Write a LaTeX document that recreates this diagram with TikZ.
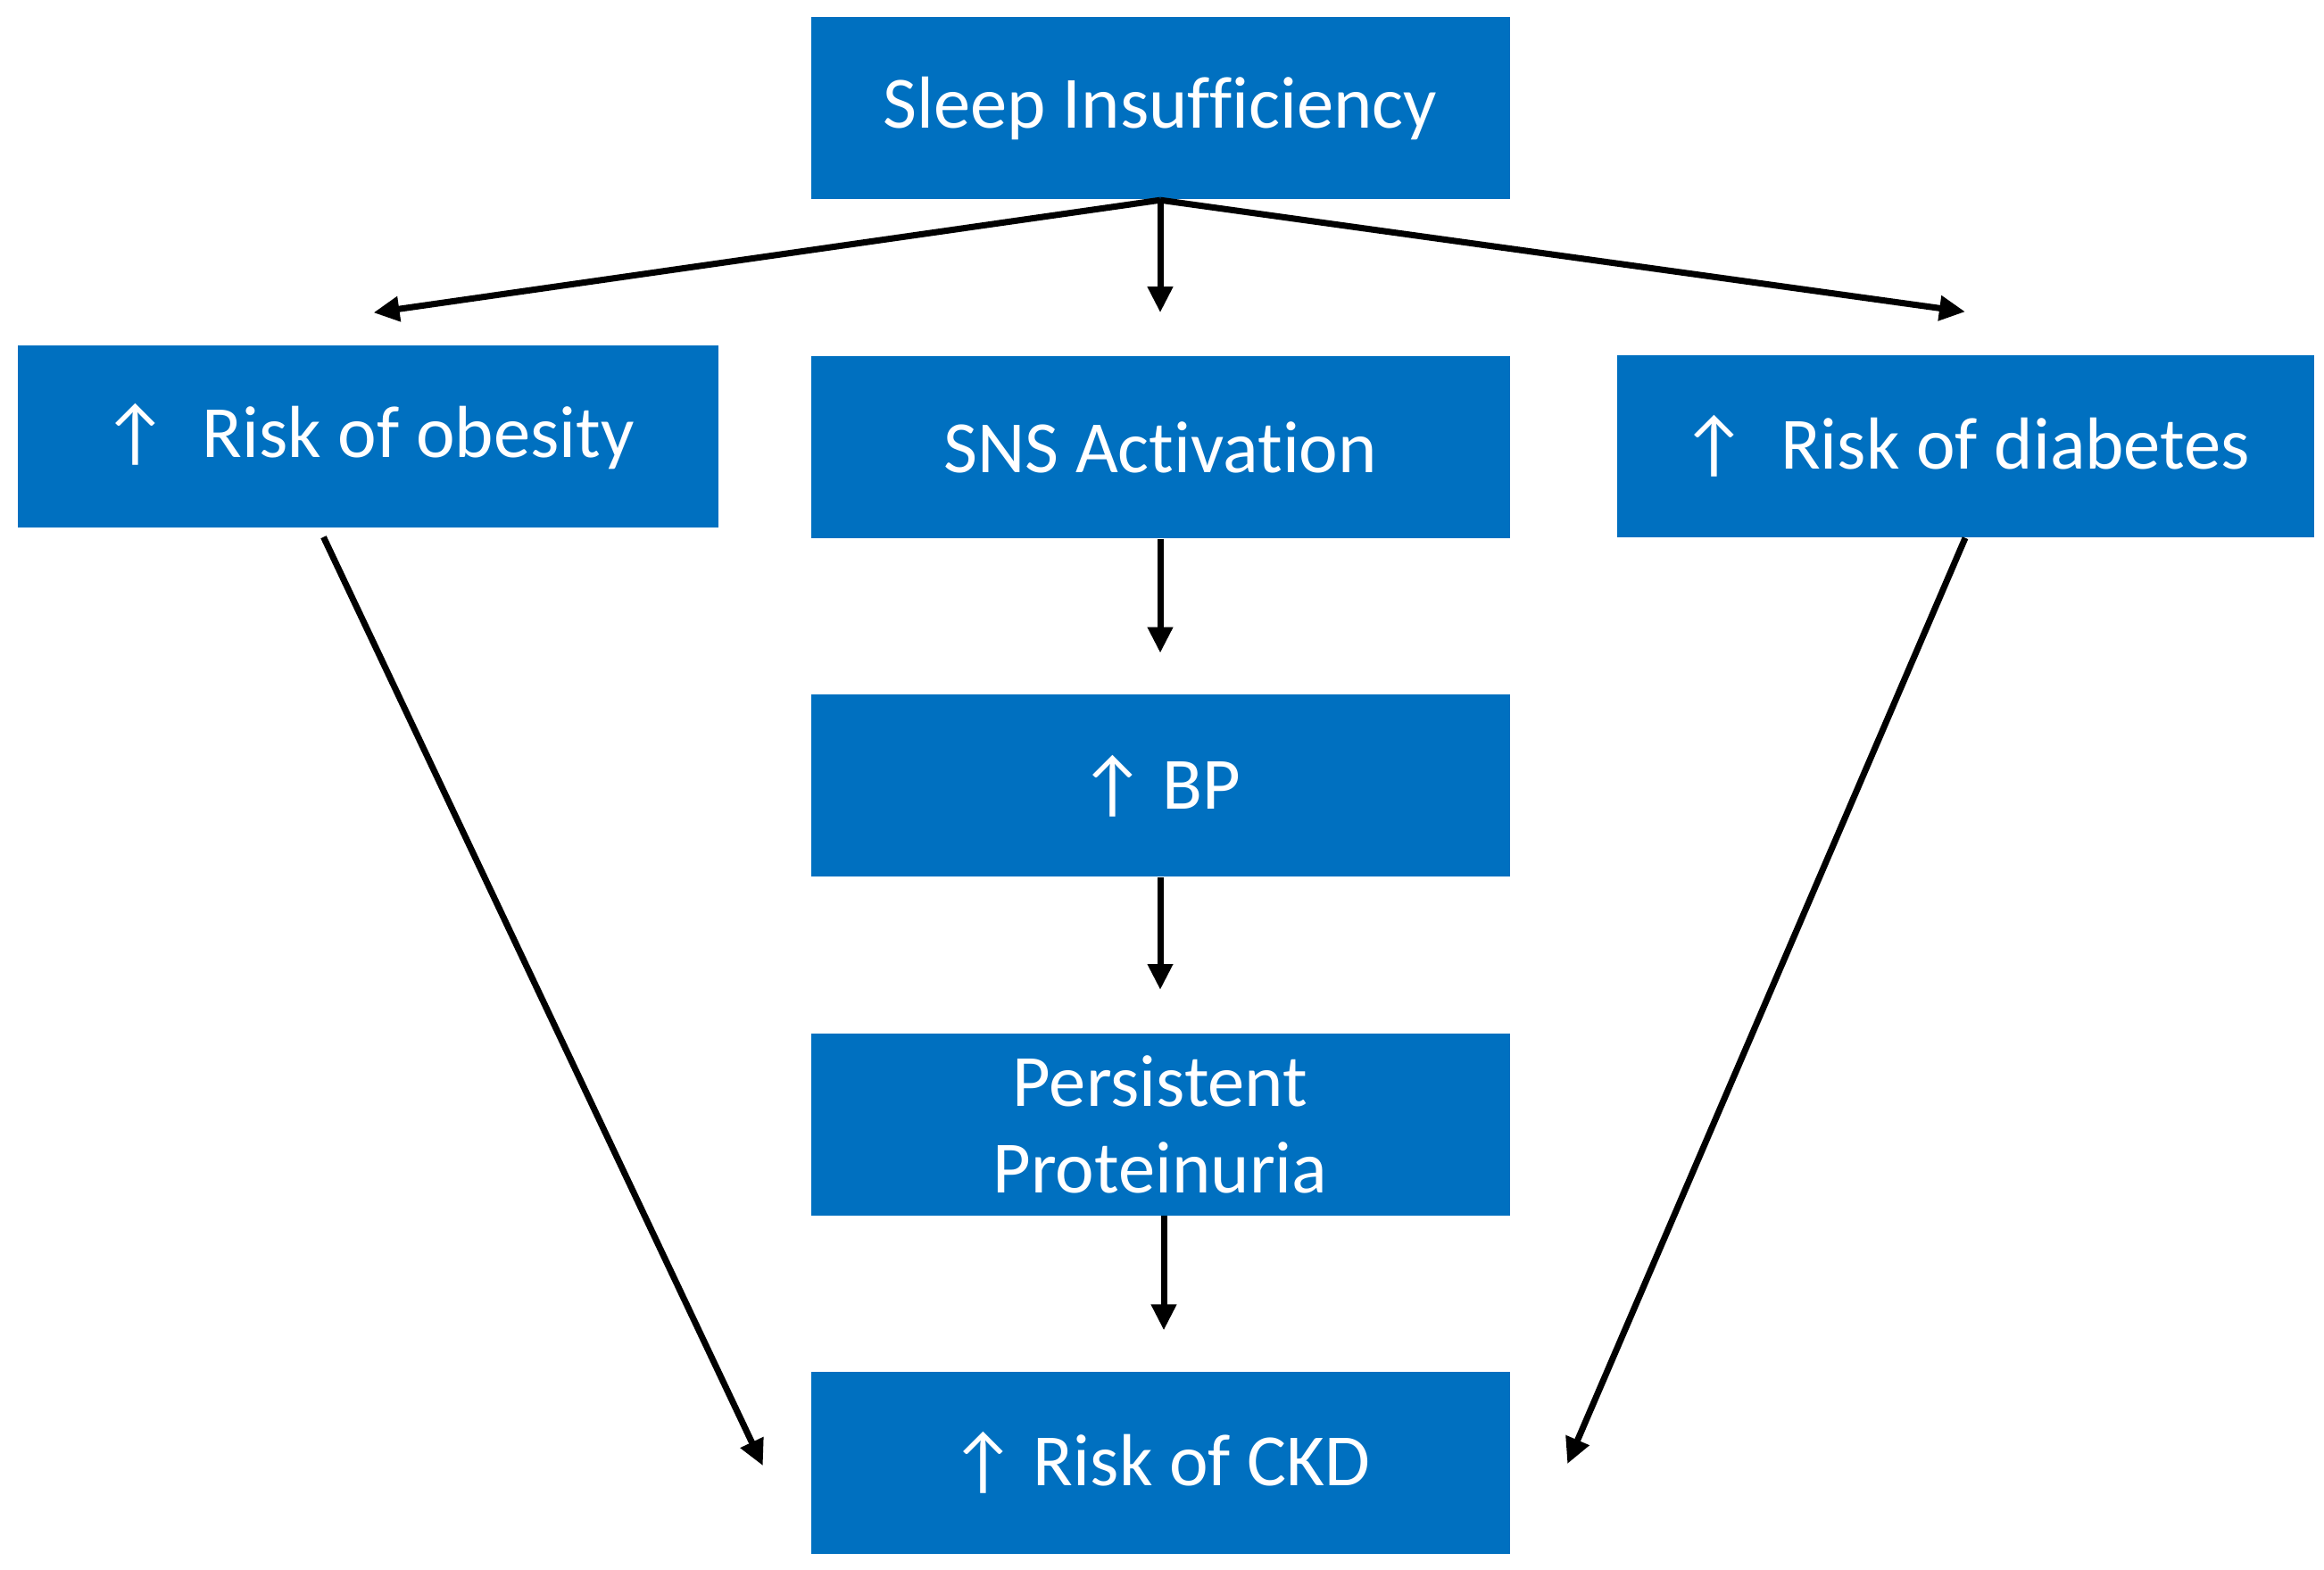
\documentclass[tikz,border=0pt]{standalone}
\usepackage{fontspec}
\setmainfont{Carlito}[Ligatures=NoCommon]
\usepackage{tikz}
\usetikzlibrary{positioning, arrows.meta}
\definecolor{boxblue}{HTML}{0070C0}

\begin{document}
\begin{tikzpicture}[
    box/.style={fill=boxblue, text=white, minimum width=7.83cm, minimum height=2.04cm,
      inner sep=0pt, align=center, font=\fontsize{23.5}{27.5}\selectfont},
    arr/.style={-{Triangle[length=2.9mm, width=2.7mm]}, line width=2pt, black},
    node distance=1.74cm
  ]
  \useasboundingbox (0,0) rectangle (26.04,-17.59);

  % Central column
  \node[box] (sleep) at (13.0,-1.215) {Sleep Insufficiency};
  \node[box, below=of sleep] (sns) {SNS Activation};
  \node[box, below=of sns] (bp) {↑ BP};
  \node[box, below=of bp] (prot) {Persistent\\Proteinuria};
  \node[box, below=of prot] (ckd) {↑ Risk of CKD};

  % Side boxes
  \node[box, minimum width=7.85cm] (obesity) at (4.125,-4.89) {↑\ \ Risk of obesity};
  \node[box, minimum width=7.81cm] (diab) at (22.02,-5.0) {↑\ \ Risk of diabetes};

  % Branches from the top box
  \draw[arr] (sleep.south) -- ([shift={(0.06,0.36)}]obesity.north);
  \draw[arr] (sleep.south) -- ([yshift=0.48cm]sns.north);
  \draw[arr] (sleep.south) -- ([yshift=0.48cm]diab.north);

  % Central chain
  \draw[arr] (sns.south) -- ([yshift=0.46cm]bp.north);
  \draw[arr] (bp.south) -- ([yshift=0.48cm]prot.north);
  \draw[arr] ([xshift=0.04cm]prot.south) -- ([shift={(0.04,0.46)}]ckd.north);

  % Long diagonals into the result
  \draw[arr] ([shift={(-0.5,-0.1)}]obesity.south) -- ([shift={(-0.53,-0.03)}]ckd.west);
  \draw[arr] (diab.south) -- ([shift={(0.64,-0.01)}]ckd.east);
\end{tikzpicture}
\end{document}
